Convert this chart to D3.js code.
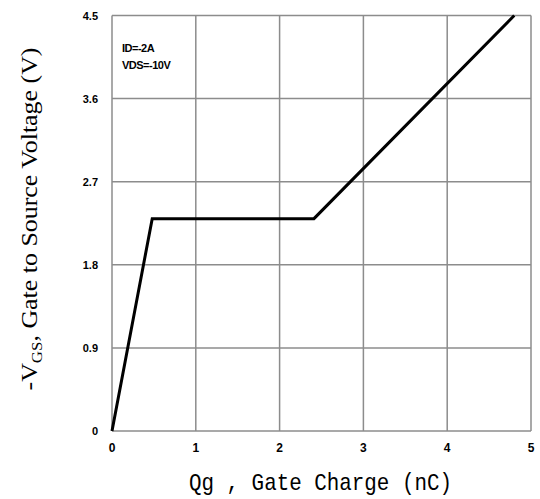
<!DOCTYPE html>
<html>
<head>
<meta charset="utf-8">
<script src="https://cdn.jsdelivr.net/npm/d3@7"></script>
<style>
body { margin: 0; background: #fff; }
</style>
</head>
<body>
<div class="chart"></div>
<script>
// gate charge curve
const qg = [0, 0.48, 2.41, 4.8];
const vgs = [0, 2.3, 2.3, 4.5];
const xTicks = [0, 1, 2, 3, 4, 5];
const yTicks = [0, 0.9, 1.8, 2.7, 3.6, 4.5];
const notes = ["ID=-2A", "VDS=-10V"];

const margin = {top: 15.5, right: 9, bottom: 68, left: 112};
const W = 540, H = 499;
const width = W - margin.left - margin.right,
  height = H - margin.top - margin.bottom;

const svg = d3.select(".chart").append("svg")
  .attr("width", W)
  .attr("height", H)
  .append("g")
  .attr("transform", "translate(" + margin.left + "," + margin.top + ")");

const xScale = d3.scaleLinear().domain([0, 5]).range([0, width]);
const yScale = d3.scaleLinear().domain([0, 4.5]).range([height, 0]);

// grid
svg.selectAll(".vgrid").data(xTicks).enter().append("line")
  .attr("x1", d => xScale(d)).attr("x2", d => xScale(d))
  .attr("y1", 0).attr("y2", height)
  .attr("stroke", "#8c8c8c").attr("stroke-width", 1.5);
svg.selectAll(".hgrid").data(yTicks).enter().append("line")
  .attr("y1", d => yScale(d)).attr("y2", d => yScale(d))
  .attr("x1", 0).attr("x2", width)
  .attr("stroke", "#8c8c8c").attr("stroke-width", 1.5);

// tick labels
svg.selectAll(".xt").data(xTicks).enter().append("text")
  .attr("x", d => xScale(d))
  .attr("y", height + 21)
  .attr("text-anchor", "middle")
  .style("font-family", "Liberation Sans, Arial, sans-serif")
  .style("font-weight", "bold")
  .style("font-size", "12px")
  .text(d => d);

svg.selectAll(".yt").data(yTicks).enter().append("text")
  .attr("x", -14)
  .attr("y", d => yScale(d) + 4)
  .attr("text-anchor", "end")
  .style("font-family", "Liberation Sans, Arial, sans-serif")
  .style("font-weight", "bold")
  .style("font-size", "11px")
  .text(d => d === 0 ? "0" : d3.format(".1f")(d));

// curve
const line = d3.line()
  .x((d, i) => xScale(qg[i]))
  .y(d => yScale(d));
svg.append("path")
  .datum(vgs)
  .attr("fill", "none")
  .attr("stroke", "#000")
  .attr("stroke-width", 3)
  .attr("stroke-linejoin", "miter")
  .attr("d", line);

// conditions
svg.selectAll(".note").data(notes).enter().append("text")
  .attr("x", 10)
  .attr("y", (d, i) => 36 + i * 17)
  .style("font-family", "Liberation Sans, Arial, sans-serif")
  .style("font-weight", "bold")
  .style("font-size", "11px")
  .style("letter-spacing", "-0.5px")
  .text(d => d);

// axis titles
svg.append("text")
  .attr("x", 77)
  .attr("y", height + 59)
  .attr("textLength", 263)
  .attr("lengthAdjust", "spacingAndGlyphs")
  .style("font-family", "Liberation Mono, DejaVu Sans Mono, monospace")
  .style("font-size", "24px")
  .text("Qg , Gate Charge (nC)");

const yl = svg.append("text")
  .attr("transform", "translate(-75,375) rotate(-90)")
  .attr("textLength", 343)
  .attr("lengthAdjust", "spacingAndGlyphs")
  .style("font-family", "Liberation Serif, Times New Roman, serif")
  .style("font-size", "23px");
yl.append("tspan").text("-V");
yl.append("tspan").attr("dy", 5).style("font-size", "15px").text("GS");
yl.append("tspan").attr("dy", -5).text(", Gate to Source Voltage (V)");
</script>
</body>
</html>
